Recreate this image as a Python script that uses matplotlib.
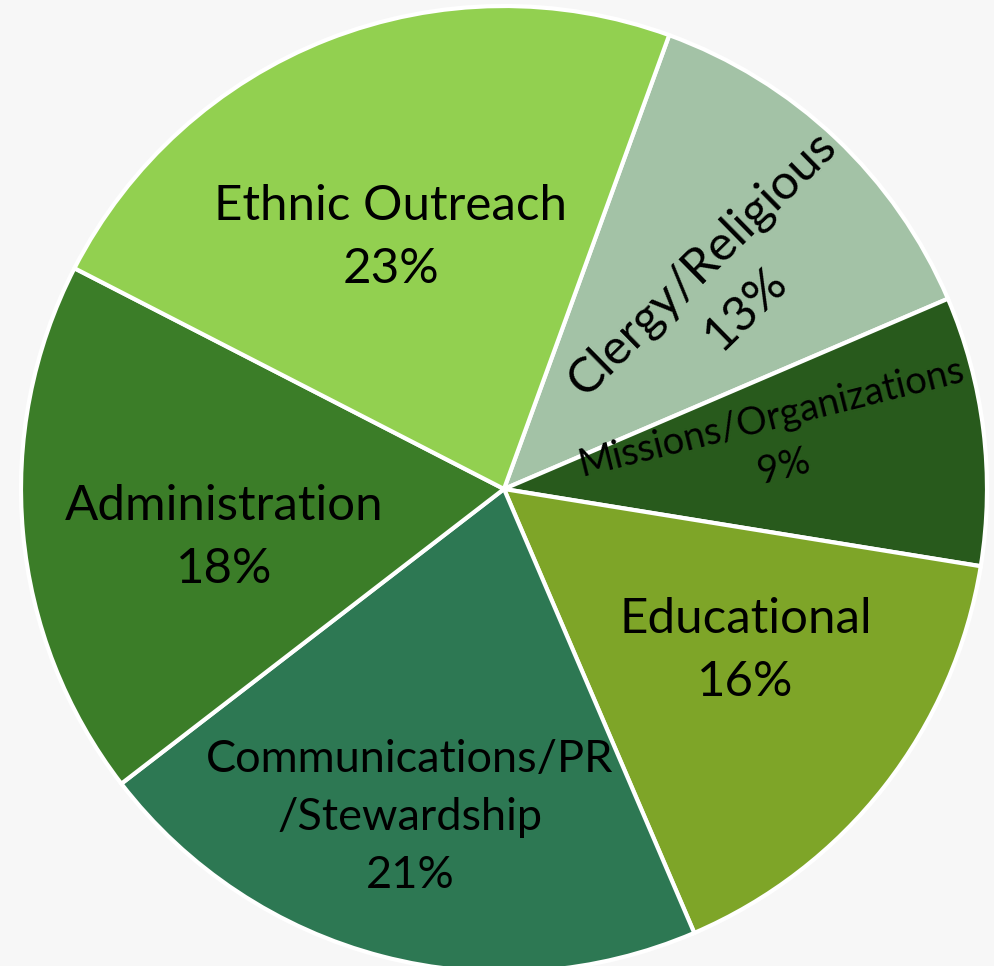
import matplotlib.pyplot as plt

plt.rcParams['font.family'] = ['Lato', 'DejaVu Sans']

# data, clockwise from the top boundary
labels = ['Clergy/Religious', 'Missions/Organizations', 'Educational',
          'Communications/PR\n/Stewardship', 'Administration', 'Ethnic Outreach']
shares = [13, 9, 16, 21, 18, 23]
colors = ['#A3C2A6', '#285A1C', '#7EA528', '#2D7853', '#3B7D28', '#92D050']

# label placement (axes data units), rotation, size
label_pos = [(0.455, 0.42), (0.567, 0.097), (0.50, -0.335),
             (-0.195, -0.68), (-0.58, -0.10), (-0.235, 0.52)]
label_rot = [44.5, 14, 0, 0, 0, 0]
label_size = [35.5, 27.5, 35.5, 32.5, 35.5, 35.5]

W, H = 995, 966
cx, cy, r = 504, 489, 483

fig = plt.figure(figsize=(W / 100, H / 100), dpi=100, facecolor='#F7F7F7')
ax = fig.add_axes([(cx - r) / W, (H - cy - r) / H, 2 * r / W, 2 * r / H])
ax.set_facecolor('none')

ax.pie(shares, colors=colors, startangle=70, counterclock=False, radius=1,
       wedgeprops=dict(edgecolor='white', linewidth=3))
ax.set_xlim(-1, 1)
ax.set_ylim(-1, 1)
ax.set_aspect('equal')
ax.axis('off')

for lab, s, (x, y), rot, fs in zip(labels, shares, label_pos, label_rot, label_size):
    ax.text(x, y, f'{lab}\n{s}%', ha='center', va='center', rotation=rot,
            rotation_mode='anchor', fontsize=fs, color='black', linespacing=1.52)

fig.savefig('out.png', dpi=100, facecolor=fig.get_facecolor())
